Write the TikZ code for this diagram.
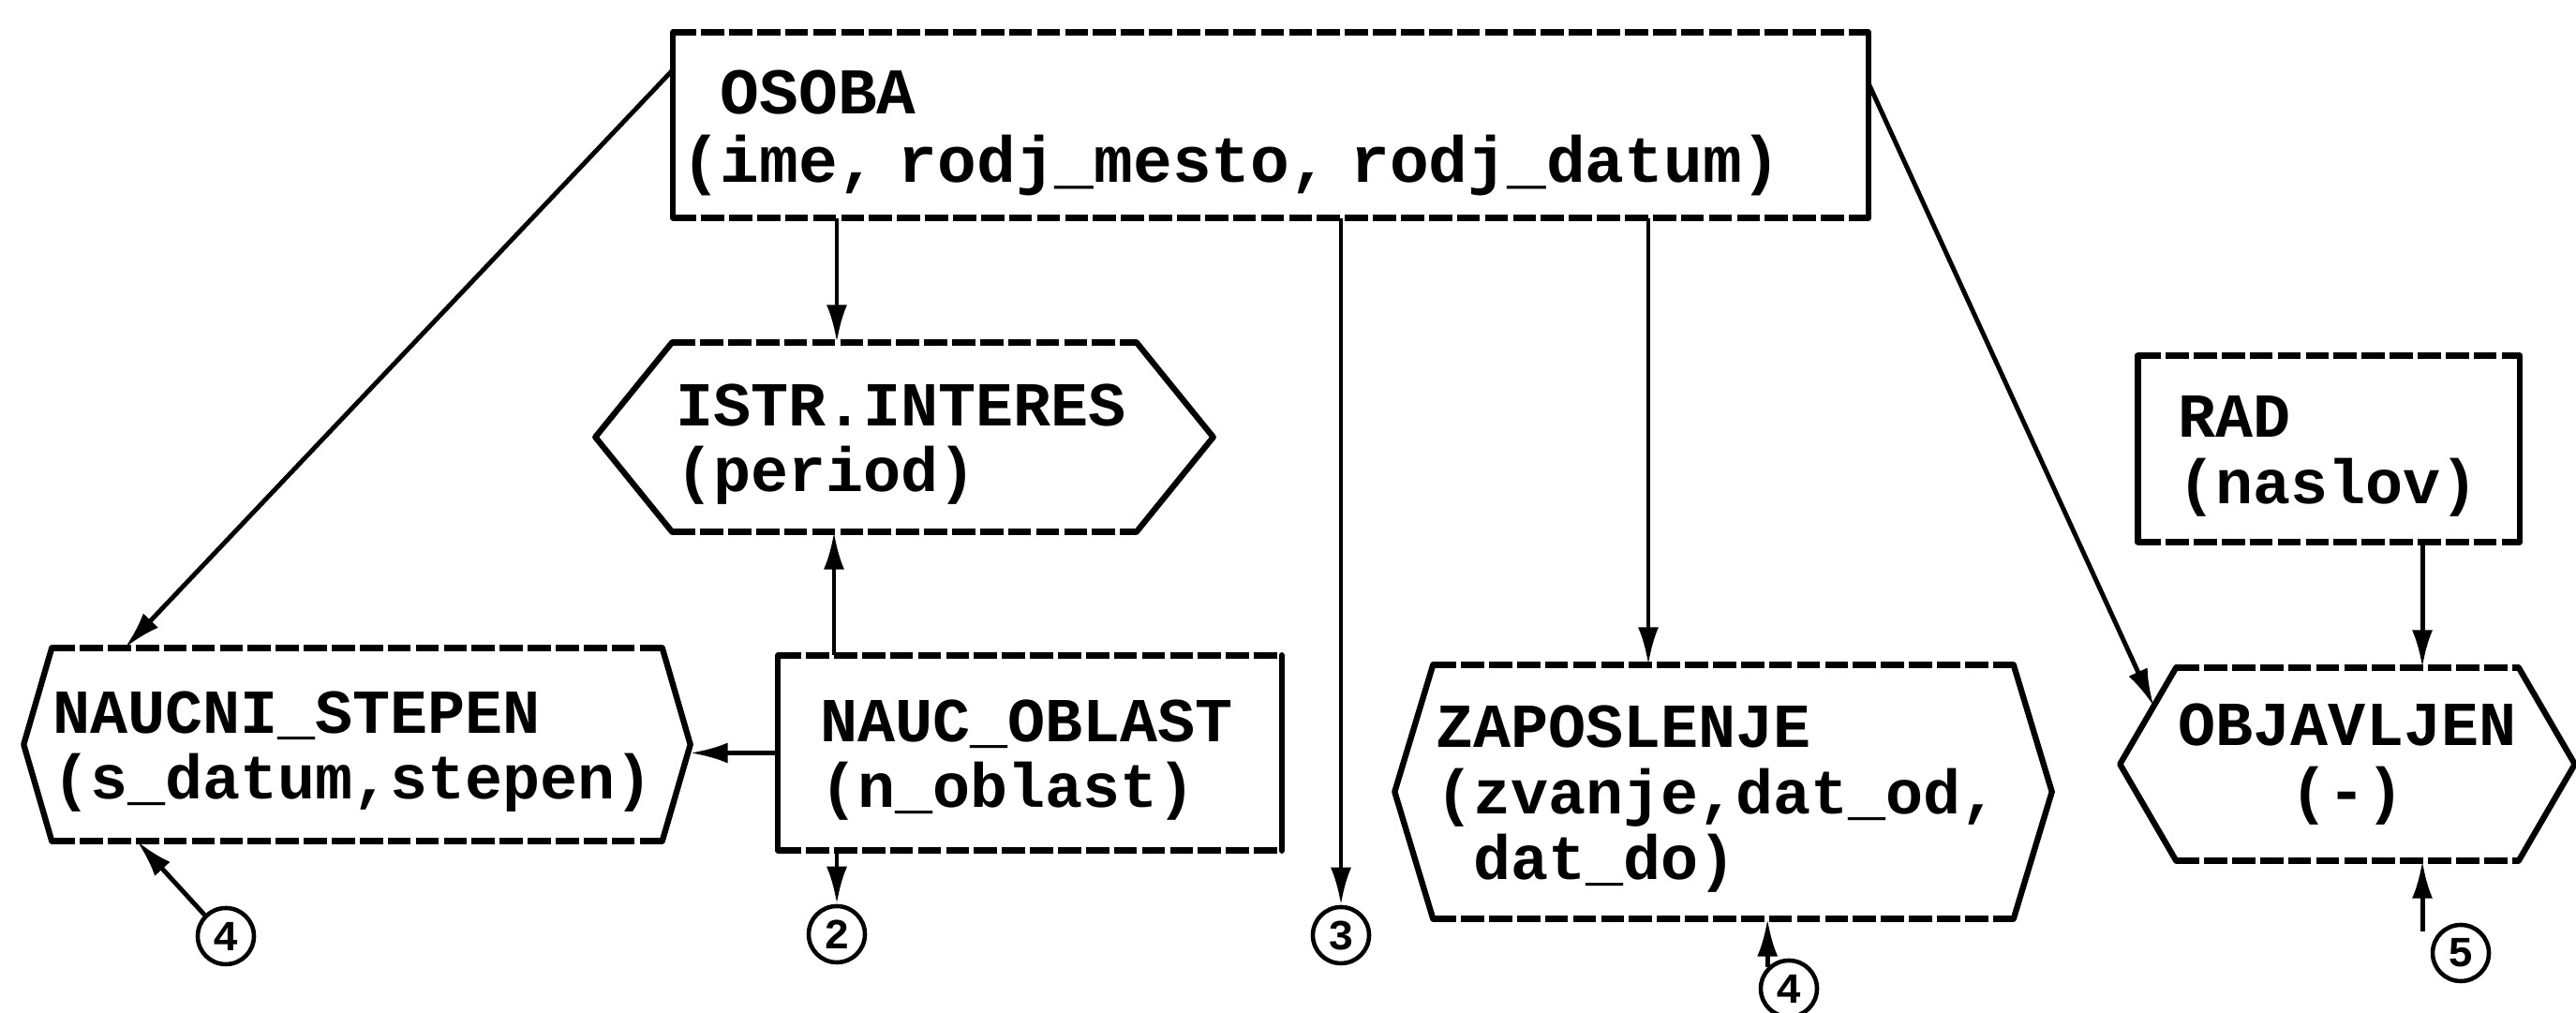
\documentclass[tikz,border=0pt]{standalone}
\usepackage{fontspec}
\setmonofont{Liberation Mono}
\usetikzlibrary{arrows.meta,calc}

% outline of a box: solid sides, broken top and bottom
\newcommand{\kutija}[1]{%
  \draw[rub] (#1.north west) -- (#1.south west);
  \draw[rub] (#1.north east) -- (#1.south east);
  \draw[crta] (#1.north west) -- (#1.north east);
  \draw[crta] (#1.south west) -- (#1.south east);}

% outline of a hexagon, #2 = how far the side points stick out
\newcommand{\hexa}[2]{%
  \coordinate (#1-l) at ([xshift=-#2]#1.west);
  \coordinate (#1-r) at ([xshift=#2]#1.east);
  \draw[rub] (#1.north west) -- (#1-l) -- (#1.south west);
  \draw[rub] (#1.north east) -- (#1-r) -- (#1.south east);
  \draw[crta] (#1.north west) -- (#1.north east);
  \draw[crta] (#1.south west) -- (#1.south east);}

\begin{document}
\begin{tikzpicture}[
    entitet/.style={
        font=\ttfamily\bfseries\fontsize{19}{20}\selectfont,
        align=left, inner ysep=0pt,
        execute at begin node={\rule{0pt}{0.9em}}
    },
    rub/.style={line width=1.8pt, line cap=round, line join=round},
    crta/.style={line width=2pt, dash pattern=on 7pt off 1.5pt},
    veza/.style={line width=1.4pt, -{Latex[length=4mm,width=2.2mm]}},
    oznaka/.style={
        circle, draw, line width=1.3pt,
        minimum size=0.6cm, inner sep=0pt,
        font=\ttfamily\bfseries\fontsize{13}{13}\selectfont
    }
]
\useasboundingbox (0,0) rectangle (27.49,10.81);

% Boxes
\node[entitet, font=\ttfamily\bfseries\fontsize{19.8}{20.8}\selectfont,
      text width=12.58cm, inner xsep=0.08cm, minimum height=1.97cm]
    (osoba) at (13.56,9.475) {\phantom{X}OSOBA\\(ime, rodj\_mesto, rodj\_datum)};
\node[entitet, text width=5.28cm, inner xsep=0.04cm, minimum height=2.07cm]
    (oblast) at (10.99,2.775) {\phantom{X}NAUC\_OBLAST\\\phantom{X}(n\_oblast)};
\node[entitet, text width=4.02cm, inner xsep=0.02cm, minimum height=1.98cm]
    (rad) at (24.85,6.02) {\phantom{X}RAD\\\phantom{X}(naslov)};
\kutija{osoba}
\kutija{oblast}
\kutija{rad}

% Hexagons
\node[entitet, text width=4.88cm, inner xsep=0.03cm, minimum height=2.01cm]
    (istr) at (9.65,6.145) {ISTR.INTERES\\(period)};
\node[entitet, text width=6.50cm, inner xsep=0cm, minimum height=2.05cm]
    (naucni) at (3.81,2.865) {NAUCNI\_STEPEN\\(s\_datum,stepen)};
\node[entitet, text width=6.14cm, inner xsep=0.02cm, minimum height=2.70cm]
    (zap) at (18.39,2.36) {ZAPOSLENJE\\(zvanje,dat\_od,\\\phantom{X}dat\_do)};
\node[entitet, align=center, inner xsep=0cm, minimum width=3.64cm, minimum height=2.05cm]
    (objav) at (25.05,2.655) {OBJAVLJEN\\(-)};
\hexa{istr}{0.82cm}
\hexa{naucni}{0.3cm}
\hexa{zap}{0.41cm}
\hexa{objav}{0.6cm}

% Page connectors
\node[oznaka] (c2) at (8.93,0.84) {2};
\node[oznaka] (c3) at (14.31,0.83) {3};
\node[oznaka] (c4a) at (2.41,0.82) {4};
\node[oznaka] (c4b) at (19.09,0.26) {4};
\node[oznaka] (c5) at (26.26,0.64) {5};

% Arrows
\draw[veza] ([yshift=-0.4cm]osoba.north west) -- ([xshift=0.78cm]naucni.north west);
\draw[veza] ([xshift=-0.72cm]istr.north |- osoba.south) -- ([xshift=-0.72cm]istr.north);
\draw[veza] (c3.north |- osoba.south) -- (c3.north);
\draw[veza] ([xshift=-0.8cm]zap.north |- osoba.south) -- ([xshift=-0.8cm]zap.north);
\draw[veza] ([yshift=-0.54cm]osoba.north east) -- ($(objav-l)!0.6!(objav.north west)$);
\draw[veza] ([xshift=-2.09cm]oblast.north) -- ([xshift=-2.09cm]oblast.north |- istr.south);
\draw[veza] (oblast.west) -- (oblast.west -| naucni-r);
\draw[veza] (c2.north |- oblast.south) -- (c2.north);
\draw[veza] ([xshift=1cm]rad.south) -- ([xshift=1cm]rad.south |- objav.north);
\draw[veza] (c4a.north west) -- ([xshift=0.91cm]naucni.south west);
\draw[veza] (c4b.north west) -- (c4b.north west |- zap.south);
\draw[veza] ([xshift=0.8cm]objav.south |- c5.north west) -- ([xshift=0.8cm]objav.south);

\end{tikzpicture}
\end{document}
